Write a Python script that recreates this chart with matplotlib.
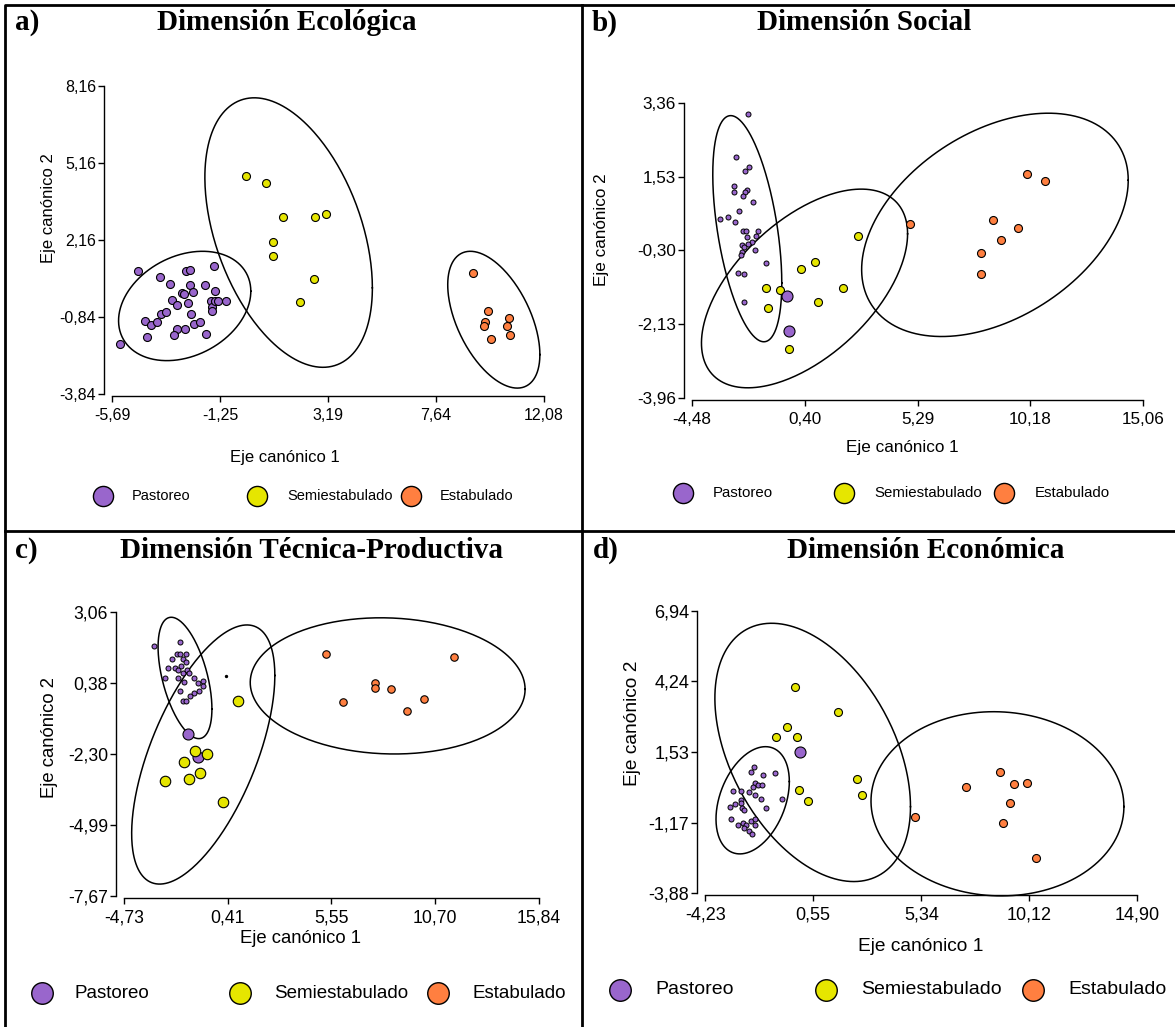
import numpy as np
import matplotlib
matplotlib.use('Agg')
import matplotlib.pyplot as plt
from matplotlib.lines import Line2D

plt.rcParams['font.family'] = ['Liberation Sans', 'DejaVu Sans']

W, H = 1175, 1027
PURPLE = '#9966cc'
YELLOW = '#e6e600'
ORANGE = '#ff7f40'
groups = ['Pastoreo', 'Semiestabulado', 'Estabulado']

# ---------------- a) Dimensión Ecológica ----------------
a_xticks = [-5.69, -1.25, 3.19, 7.64, 12.08]
a_yticks = [-3.84, -0.84, 2.16, 5.16, 8.16]
a_past_x = [-4.61, -5.35, -3.72, -3.29, -2.64, -2.50, -1.51, -4.34, -4.24, -4.07, -3.83, -3.68,
            -3.45, -3.23, -3.01, -2.83, -2.72, -2.56, -2.50, -2.35, -2.44, -2.33, -2.07, -1.88,
            -1.46, -1.62, -1.59, -1.56, -1.45, -1.33, -1.02, -1.84, -2.69, -3.01, -3.14]
a_past_y = [0.94, -1.88, 0.71, 0.46, 0.94, 1.01, 1.14, -0.98, -1.62, -1.17, -1.03, -0.72,
            -0.65, -0.17, -0.36, 0.09, 0.07, -0.29, 0.40, 0.14, -0.72, -1.10, -1.04, 0.40,
            0.19, -0.23, -0.45, -0.62, -0.23, -0.23, -0.23, -1.49, -1.29, -1.29, -1.55]
a_semi_x = [-0.16, 0.66, 1.34, 2.67, 3.10, 0.95, 0.95, 2.61, 2.05]
a_semi_y = [4.65, 4.39, 3.06, 3.06, 3.19, 2.08, 1.52, 0.65, -0.24]
a_est_x = [9.17, 9.77, 9.67, 9.60, 10.66, 10.55, 10.70, 9.88]
a_est_y = [0.88, -0.62, -1.04, -1.20, -0.88, -1.20, -1.56, -1.68]
# ellipses: centre x, centre y, half-width, half-height, correlation
a_ell = [(-2.70, -0.41, 2.72, 2.13, 0.27),
         (1.575, 2.45, 3.445, 5.25, -0.41),
         (10.015, -0.945, 1.895, 2.665, -0.51)]

# ---------------- b) Dimensión Social ----------------
b_xticks = [-4.48, 0.40, 5.29, 10.18, 15.06]
b_yticks = [-3.96, -2.13, -0.30, 1.53, 3.36]
b_past_x = [-2.05, -2.56, -2.00, -2.19, -2.67, -2.67, -2.08, -2.17, -2.25, -1.82, -2.43, -3.27,
            -2.92, -2.61, -2.25, -2.12, -1.63, -1.69, -2.11, -1.87, -2.05, -2.30, -2.22, -2.30,
            -2.37, -1.75, -1.26, -2.49, -2.24, -2.24]
b_past_y = [3.08, 2.02, 1.78, 1.67, 1.30, 1.14, 1.19, 1.14, 1.06, 0.91, 0.68, 0.49,
            0.52, 0.41, 0.18, 0.18, 0.18, 0.06, 0.03, -0.09, -0.14, -0.16, -0.21, -0.33,
            -0.42, -0.28, -0.62, -0.85, -0.89, -1.58]
b_past_big_x = [-0.35, -0.29]
b_past_big_y = [-1.42, -2.29]
b_semi_x = [-1.26, -1.20, -0.67, -0.29, 0.25, 0.86, 0.99, 2.08, 2.70]
b_semi_y = [-1.23, -1.73, -1.27, -2.73, -0.77, -0.58, -1.57, -1.24, 0.06]
b_est_x = [4.96, 8.55, 9.64, 8.92, 8.06, 8.06, 10.03, 10.81]
b_est_y = [0.36, 0.45, 0.25, -0.05, -0.36, -0.89, 1.59, 1.43]
b_ell = [(-2.085, 0.24, 1.495, 2.80, -0.48),
         (0.395, -1.24, 4.465, 2.46, 0.55),
         (8.645, 0.335, 5.775, 2.765, 0.40)]

# ---------------- c) Dimensión Técnica-Productiva ----------------
c_xticks = [-4.73, 0.41, 5.55, 10.70, 15.84]
c_yticks = [-7.67, -4.99, -2.30, 0.38, 3.06]
c_past_x = [-3.24, -1.97, -2.12, -1.97, -1.67, -2.34, -1.82, -1.67, -2.57, -2.19, -1.93, -2.08,
            -1.82, -1.60, -1.50, -2.71, -2.04, -1.75, -1.28, -1.06, -0.83, -0.83, -1.00, -1.97,
            -1.28, -1.45, -1.82, -1.67]
c_past_y = [1.76, 1.93, 1.46, 1.46, 1.46, 1.29, 1.29, 1.15, 0.95, 0.95, 1.01, 0.86,
            0.73, 0.86, 0.76, 0.54, 0.54, 0.42, 0.54, 0.36, 0.46, 0.26, 0.07, 0.07,
            -0.02, -0.11, -0.30, -0.30]
c_past_big_x = [-1.59, -1.07]
c_past_big_y = [-1.56, -2.41]
c_dot_x = [0.31]
c_dot_y = [0.65]
c_semi_x = [0.91, -1.22, -0.60, -1.75, -0.96, -1.50, -2.73, 0.16]
c_semi_y = [-0.30, -2.19, -2.32, -2.61, -3.04, -3.25, -3.32, -4.13]
c_est_x = [5.29, 11.64, 7.70, 7.70, 8.52, 6.11, 10.12, 9.28]
c_est_y = [1.46, 1.35, 0.36, 0.19, 0.13, -0.34, -0.22, -0.69]
c_ell = [(-1.715, 0.56, 1.335, 2.29, -0.51),
         (-0.81, -2.33, 3.55, 4.89, 0.61),
         (8.335, 0.26, 6.815, 2.57, -0.05)]

# ---------------- d) Dimensión Económica ----------------
d_xticks = [-4.23, 0.55, 5.34, 10.12, 14.90]
d_yticks = [-3.88, -1.17, 1.53, 4.24, 6.94]
d_past_x = [-2.09, -2.23, -1.66, -1.16, -3.01, -2.66, -2.29, -2.01, -1.89, -1.72, -2.13, -2.03,
            -1.75, -0.83, -2.93, -3.16, -2.66, -2.63, -2.60, -2.53, -1.53, -3.09, -2.80, -2.56,
            -2.43, -2.23, -2.03, -2.03, -2.50, -2.29, -2.16]
d_past_y = [0.95, 0.78, 0.66, 0.72, 0.05, 0.05, 0.01, 0.36, 0.27, 0.29, 0.18, -0.11,
            -0.27, -0.27, -0.46, -0.56, -0.30, -0.43, -0.62, -0.69, -0.62, -1.04, -1.26, -1.20,
            -1.26, -1.11, -1.04, -1.26, -1.39, -1.48, -1.62]
d_past_big_x = [-0.04]
d_past_big_y = [1.52]
d_semi_x = [-0.26, 1.64, -0.61, -1.09, -0.19, 2.47, 2.71, -0.06, 0.31]
d_semi_y = [4.01, 3.07, 2.48, 2.12, 2.12, 0.49, -0.11, 0.08, -0.34]
d_est_x = [8.81, 7.34, 9.44, 10.01, 9.29, 8.94, 5.08, 10.43]
d_est_y = [0.78, 0.18, 0.31, 0.36, -0.41, -1.17, -0.94, -2.51]
d_ell = [(-2.135, -0.315, 1.625, 2.055, 0.35),
         (0.525, 1.52, 4.335, 4.95, -0.42),
         (8.715, -0.45, 5.605, 3.53, -0.03)]


def fmt(v):
    return f"{v:.2f}".replace('.', ',')


def px_axes(left, right, top, bottom):
    return [left / W, 1 - bottom / H, (right - left) / W, (bottom - top) / H]


def draw_ellipse(ax, cx, cy, rx, ry, rho):
    t = np.linspace(0, 2 * np.pi, 300)
    phi = np.arccos(rho)
    ax.plot(cx + rx * np.cos(t), cy + ry * np.cos(t - phi), color='black', lw=1.1,
            clip_on=False, zorder=2)


def setup(ax, xticks, yticks, fs):
    ax.set_xlim(xticks[0], xticks[-1])
    ax.set_ylim(yticks[0], yticks[-1])
    ax.spines['top'].set_visible(False)
    ax.spines['right'].set_visible(False)
    ax.spines['left'].set_position(('outward', 5.8))
    ax.spines['bottom'].set_position(('outward', 1.5))
    for s in ['left', 'bottom']:
        ax.spines[s].set_linewidth(1.0)
    ax.set_xticks(xticks)
    ax.set_xticklabels([fmt(v) for v in xticks])
    ax.set_yticks(yticks)
    ax.set_yticklabels([fmt(v) for v in yticks])
    ax.tick_params(axis='both', direction='out', length=4.3, width=1.0, labelsize=fs)
    ax.tick_params(axis='x', pad=4)
    ax.tick_params(axis='y', pad=1.5)
    ax.patch.set_alpha(0)


def labels(ax, fs, xl, yl):
    ax.set_xlabel('Eje canónico 1', fontsize=fs)
    ax.set_ylabel('Eje canónico 2', fontsize=fs)
    ax.xaxis.set_label_coords(*xl)
    ax.yaxis.set_label_coords(*yl)
    ax.xaxis.label.set_va('center')
    ax.yaxis.label.set_va('center')


def legend_row(fig, y, mx, tx, fs, ms):
    for m, t, c, lab in zip(mx, tx, [PURPLE, YELLOW, ORANGE], groups):
        fig.add_artist(Line2D([m / W], [1 - y / H], marker='o', ls='none', ms=ms, mfc=c,
                              mec='black', mew=1.0, transform=fig.transFigure))
        fig.text(t / W, 1 - y / H, lab, fontsize=fs, ha='left', va='center')


fig = plt.figure(figsize=(W / 100, H / 100), dpi=100)

# panel frames (open on the right and bottom, as in the source)
frame = dict(color='black', lw=2.0, transform=fig.transFigure, solid_capstyle='projecting')
fig.add_artist(Line2D([5 / W, 5 / W, W / W], [0, 1 - 5 / H, 1 - 5 / H], **frame))
fig.add_artist(Line2D([582 / W, 582 / W], [1 - 5 / H, 0], **frame))
fig.add_artist(Line2D([5 / W, 1], [1 - 531 / H, 1 - 531 / H], **frame))

title_font = dict(family=['Liberation Serif', 'DejaVu Serif'], fontweight='bold', fontsize=21)

# a)
ax = fig.add_axes(px_axes(112, 544, 86, 394))
setup(ax, a_xticks, a_yticks, 11.5)
for e in a_ell:
    draw_ellipse(ax, *e)
ax.scatter(a_past_x, a_past_y, s=33, c=PURPLE, edgecolors='black', linewidths=0.8, zorder=3)
ax.scatter(a_semi_x, a_semi_y, s=33, c=YELLOW, edgecolors='black', linewidths=0.8, zorder=3)
ax.scatter(a_est_x, a_est_y, s=33, c=ORANGE, edgecolors='black', linewidths=0.8, zorder=3)
labels(ax, 12, (0.40, -0.205), (-0.148, 0.604))
fig.text(287 / W, 1 - 23 / H, 'Dimensión Ecológica', ha='center', va='center', **title_font)
fig.text(15 / W, 1 - 23 / H, 'a)', ha='left', va='center', **title_font)
legend_row(fig, 496, [103, 257, 411], [132, 287, 440], 10.5, 14.5)

# b)
ax = fig.add_axes(px_axes(692, 1143, 102.7, 398.3))
setup(ax, b_xticks, b_yticks, 12.3)
for e in b_ell:
    draw_ellipse(ax, *e)
ax.scatter(b_past_x, b_past_y, s=13, c=PURPLE, edgecolors='black', linewidths=0.7, zorder=3)
ax.scatter(b_semi_x, b_semi_y, s=33, c=YELLOW, edgecolors='black', linewidths=0.8, zorder=3)
ax.scatter(b_est_x, b_est_y, s=33, c=ORANGE, edgecolors='black', linewidths=0.8, zorder=3)
ax.scatter(b_past_big_x, b_past_big_y, s=63, c=PURPLE, edgecolors='black', linewidths=0.8, zorder=4)
labels(ax, 12.3, (0.466, -0.168), (-0.1996, 0.569))
fig.text(864 / W, 1 - 23 / H, 'Dimensión Social', ha='center', va='center', **title_font)
fig.text(592 / W, 1 - 23 / H, 'b)', ha='left', va='center', **title_font)
legend_row(fig, 493, [683, 844, 1004], [713, 874, 1035], 10.8, 14.5)

# c)
ax = fig.add_axes(px_axes(124.2, 539, 611.7, 896))
setup(ax, c_xticks, c_yticks, 12.7)
for e in c_ell:
    draw_ellipse(ax, *e)
ax.scatter(c_past_x, c_past_y, s=13, c=PURPLE, edgecolors='black', linewidths=0.7, zorder=3)
ax.scatter(c_dot_x, c_dot_y, s=2, c='black', zorder=3)
ax.scatter(c_semi_x, c_semi_y, s=57, c=YELLOW, edgecolors='black', linewidths=0.8, zorder=3)
ax.scatter(c_est_x, c_est_y, s=29, c=ORANGE, edgecolors='black', linewidths=0.8, zorder=3)
ax.scatter(c_past_big_x, c_past_big_y, s=63, c=PURPLE, edgecolors='black', linewidths=0.8, zorder=2.5)
labels(ax, 13.3, (0.426, -0.148), (-0.181, 0.559))
fig.text(312 / W, 1 - 550 / H, 'Dimensión Técnica-Productiva', ha='center', va='center', **title_font)
fig.text(15 / W, 1 - 550 / H, 'c)', ha='left', va='center', **title_font)
legend_row(fig, 993, [42.5, 240, 438.5], [75, 274, 472], 13.5, 15.5)

# d)
ax = fig.add_axes(px_axes(705.4, 1137, 611, 893.3))
setup(ax, d_xticks, d_yticks, 13)
for e in d_ell:
    draw_ellipse(ax, *e)
ax.scatter(d_past_x, d_past_y, s=13, c=PURPLE, edgecolors='black', linewidths=0.7, zorder=3)
ax.scatter(d_semi_x, d_semi_y, s=33, c=YELLOW, edgecolors='black', linewidths=0.8, zorder=3)
ax.scatter(d_est_x, d_est_y, s=33, c=ORANGE, edgecolors='black', linewidths=0.8, zorder=3)
ax.scatter(d_past_big_x, d_past_big_y, s=63, c=PURPLE, edgecolors='black', linewidths=0.8, zorder=4)
labels(ax, 13.8, (0.4995, -0.189), (-0.170, 0.603))
fig.text(926 / W, 1 - 550 / H, 'Dimensión Económica', ha='center', va='center', **title_font)
fig.text(593 / W, 1 - 550 / H, 'd)', ha='left', va='center', **title_font)
legend_row(fig, 990, [620, 826, 1033], [655, 861, 1068], 14, 15.5)

fig.savefig('out.png', dpi=100)
